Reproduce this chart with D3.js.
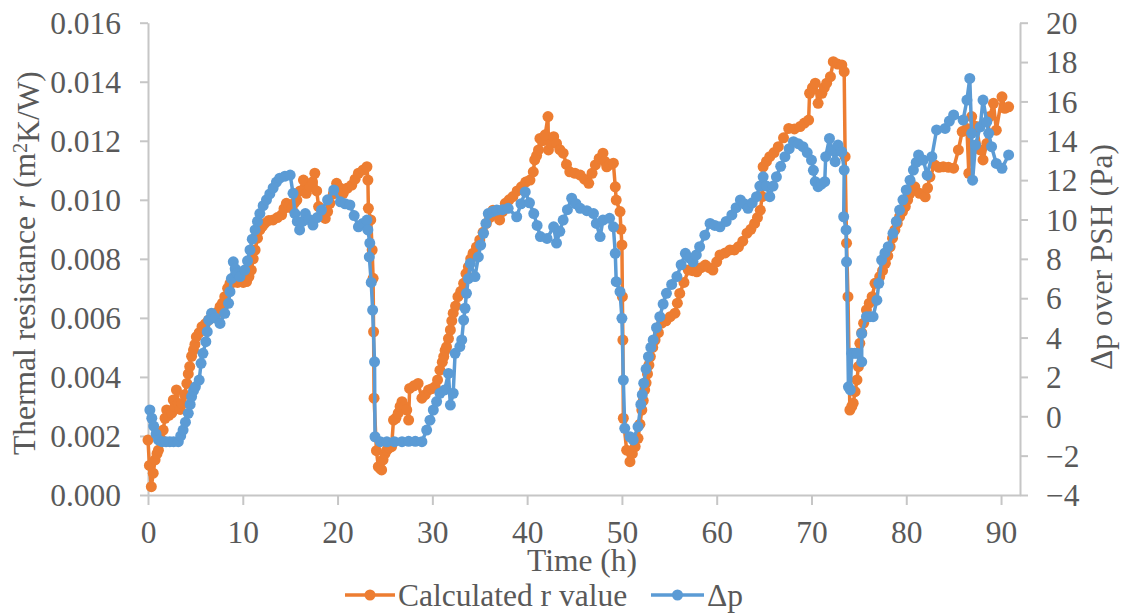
<!DOCTYPE html>
<html><head><meta charset="utf-8">
<script src="https://cdn.jsdelivr.net/npm/d3@7"></script>
<style>body{margin:0;background:#fff} svg{display:block}</style>
</head><body>
<svg id="c" width="1127" height="614"></svg>
<script>
const xTicks=[0,10,20,30,40,50,60,70,80,90];
const rTicks=[0,0.002,0.004,0.006,0.008,0.010,0.012,0.014,0.016];
const dpTicks=[-4,-2,0,2,4,6,8,10,12,14,16,18,20];
const seriesNames=["Calculated r value","\u0394p"];
const seriesColors=["#ED7D31","#5B9BD5"];

// [time (h), r (m2K/W)]
const rPoints=[[0.0,0.00186],[0.15,0.0010],[0.35,0.00028],[0.55,0.00074],[0.75,0.00119],[0.95,0.0014],[1.1,0.00152],[1.35,0.0019],[1.6,0.0022],[1.8,0.0026],[1.97,0.00288],[2.2,0.0027],[2.5,0.00277],[2.67,0.00322],[2.85,0.0030],[3.0,0.00356],[3.2,0.0031],[3.4,0.0029],[3.6,0.0031],[3.85,0.0034],[4.1,0.00378],[4.25,0.0041],[4.4,0.00435],[4.6,0.0047],[4.8,0.00491],[4.95,0.0051],[5.1,0.00536],[5.4,0.0055],[5.7,0.0057],[6.05,0.0058],[6.4,0.00593],[6.75,0.0060],[7.1,0.00604],[7.35,0.0062],[7.6,0.00638],[7.85,0.0065],[8.1,0.00672],[8.4,0.0070],[8.65,0.00717],[8.95,0.0072],[9.2,0.00728],[9.45,0.0072],[9.7,0.00723],[10.05,0.0072],[10.4,0.00723],[10.65,0.0074],[10.9,0.00762],[11.1,0.0080],[11.3,0.0083],[11.55,0.0087],[11.8,0.00898],[12.05,0.0091],[12.3,0.0092],[12.75,0.0093],[13.2,0.00932],[13.65,0.0094],[14.1,0.00949],[14.35,0.0097],[14.6,0.00988],[14.9,0.0098],[15.2,0.00971],[15.45,0.0099],[15.7,0.00999],[16.05,0.0103],[16.4,0.01067],[16.7,0.01022],[17.1,0.01044],[17.35,0.0106],[17.6,0.0109],[17.8,0.0103],[18.0,0.00977],[18.35,0.0095],[18.7,0.00937],[18.95,0.0096],[19.2,0.00988],[19.55,0.0102],[19.9,0.01056],[20.25,0.0104],[20.6,0.01022],[21.05,0.0104],[21.5,0.0105],[21.85,0.0107],[22.2,0.0109],[22.7,0.01101],[23.1,0.01112],[23.2,0.01067],[23.25,0.00971],[23.5,0.00932],[23.65,0.0083],[23.75,0.00734],[23.8,0.00553],[23.85,0.00328],[24.1,0.0015],[24.3,0.00096],[24.5,0.0009],[24.65,0.00085],[24.8,0.00119],[25.0,0.0014],[25.2,0.00152],[25.45,0.0016],[25.7,0.00164],[25.9,0.00254],[26.15,0.0026],[26.4,0.00277],[26.6,0.0030],[26.8,0.00316],[27.05,0.0030],[27.3,0.00288],[27.5,0.00254],[27.6,0.00361],[28.05,0.0037],[28.5,0.00378],[28.9,0.00328],[29.25,0.0034],[29.6,0.00356],[29.95,0.0036],[30.3,0.00367],[30.55,0.0039],[30.8,0.00423],[31.05,0.0045],[31.2,0.00469],[31.35,0.0049],[31.5,0.00502],[31.7,0.0053],[31.9,0.00559],[32.05,0.0059],[32.2,0.00616],[32.45,0.0064],[32.7,0.00672],[33.0,0.0069],[33.3,0.00717],[33.55,0.0075],[33.8,0.00773],[34.05,0.0080],[34.3,0.00819],[34.65,0.0084],[35.0,0.00864],[35.35,0.0089],[35.7,0.0092],[36.05,0.0094],[36.4,0.00965],[36.75,0.0095],[37.1,0.00932],[37.4,0.0096],[37.7,0.00988],[38.1,0.0100],[38.5,0.01011],[38.95,0.0103],[39.4,0.01044],[39.85,0.0106],[40.3,0.01067],[40.65,0.01095],[40.8,0.01135],[41.0,0.0115],[41.2,0.01169],[41.35,0.01208],[41.6,0.0120],[41.9,0.0122],[42.2,0.01282],[42.25,0.01169],[42.5,0.0119],[42.8,0.01214],[43.1,0.01191],[43.45,0.0117],[43.8,0.01158],[44.15,0.0112],[44.5,0.01095],[45.05,0.0109],[45.6,0.01084],[46.05,0.0107],[46.5,0.01056],[46.85,0.0109],[47.2,0.01118],[47.6,0.0114],[48.0,0.01158],[48.2,0.0113],[48.4,0.01112],[48.75,0.0112],[49.1,0.01124],[49.3,0.01044],[49.4,0.00999],[49.8,0.0096],[49.9,0.0090],[50.0,0.00847],[50.05,0.00672],[50.1,0.00525],[50.15,0.0026],[50.5,0.00152],[50.85,0.00113],[51.1,0.0014],[51.4,0.00164],[51.7,0.00192],[51.9,0.0024],[52.1,0.00288],[52.25,0.0032],[52.4,0.00356],[52.55,0.0038],[52.7,0.0041],[52.85,0.0044],[53.0,0.00469],[53.25,0.0050],[53.5,0.00525],[53.85,0.0055],[54.2,0.00582],[54.65,0.0059],[55.1,0.00604],[55.6,0.00616],[55.85,0.0065],[56.1,0.00683],[56.55,0.0072],[57.0,0.00762],[57.45,0.0076],[57.9,0.00756],[58.35,0.0077],[58.8,0.00779],[59.2,0.0077],[59.6,0.00762],[60.0,0.0079],[60.35,0.00813],[60.9,0.0082],[61.4,0.0083],[61.85,0.0083],[62.3,0.00841],[62.75,0.0086],[63.2,0.00887],[63.6,0.0090],[64.0,0.0092],[64.3,0.0094],[64.6,0.00965],[64.8,0.01011],[64.9,0.01112],[65.25,0.0113],[65.6,0.01146],[66.05,0.0116],[66.5,0.0118],[67.05,0.0121],[67.6,0.01242],[68.2,0.0124],[68.8,0.01248],[69.25,0.0126],[69.7,0.0127],[69.8,0.01361],[70.1,0.0138],[70.4,0.01395],[70.7,0.01327],[71.1,0.01361],[71.35,0.0138],[71.6,0.01395],[72.0,0.01417],[72.3,0.01468],[72.75,0.0146],[73.2,0.01457],[73.45,0.01434],[73.55,0.01146],[73.7,0.00853],[73.85,0.00672],[74.05,0.00288],[74.25,0.0030],[74.4,0.00311],[74.6,0.0035],[74.8,0.0039],[74.95,0.00435],[75.1,0.00514],[75.3,0.0055],[75.5,0.00582],[75.8,0.00627],[76.1,0.0065],[76.4,0.00672],[76.7,0.00717],[77.2,0.0074],[77.5,0.0076],[77.8,0.00785],[78.05,0.0081],[78.3,0.00841],[78.55,0.0087],[78.8,0.00898],[79.05,0.0092],[79.3,0.00943],[79.6,0.0096],[79.9,0.00977],[80.15,0.0100],[80.4,0.01022],[80.9,0.01044],[81.4,0.01022],[82.0,0.0101],[82.25,0.0104],[82.5,0.01078],[83.0,0.01118],[83.45,0.0111],[83.9,0.01112],[84.45,0.0111],[85.0,0.01107],[85.5,0.01169],[85.9,0.01231],[86.4,0.01242],[86.6,0.0109],[86.9,0.01282],[87.4,0.01248],[87.8,0.01169],[88.1,0.01135],[88.5,0.01191],[88.8,0.01282],[89.2,0.01327],[89.5,0.01236],[90.1,0.01349],[90.4,0.0131],[90.8,0.01315]];

// [time (h), delta p over PSH (Pa)]
const dpPoints=[[0.2,0.32],[0.4,-0.1],[0.6,-0.5],[0.85,-0.9],[1.1,-1.2],[1.5,-1.29],[1.9,-1.29],[2.3,-1.29],[2.7,-1.29],[3.2,-1.29],[3.45,-1.0],[3.7,-0.7],[3.95,-0.3],[4.25,0.15],[4.45,0.6],[4.6,1.0],[4.8,1.3],[5.0,1.5],[5.4,1.84],[5.6,2.69],[5.8,3.2],[6.1,3.79],[6.25,4.3],[6.4,4.89],[6.7,5.23],[7.1,5.0],[7.6,4.72],[8.1,5.23],[8.5,5.74],[8.65,6.33],[8.8,7.0],[9.0,7.85],[9.2,7.5],[9.36,7.27],[9.7,7.1],[10.2,7.43],[10.5,7.9],[10.76,8.45],[11.0,9.0],[11.3,9.47],[11.55,9.9],[11.8,10.3],[12.15,10.7],[12.5,11.0],[12.85,11.3],[13.2,11.6],[13.55,11.9],[13.9,12.1],[14.45,12.2],[15.0,12.26],[15.3,11.33],[15.5,10.3],[15.75,9.9],[16.0,9.47],[16.3,9.9],[16.6,10.3],[17.0,10.0],[17.4,9.72],[17.85,10.1],[18.3,10.48],[18.95,11.0],[19.6,11.5],[20.3,10.9],[20.8,10.8],[21.3,10.74],[21.75,10.2],[22.2,9.63],[22.65,9.8],[23.1,9.97],[23.2,9.47],[23.4,8.8],[23.35,8.1],[23.55,6.8],[23.7,5.4],[23.9,2.77],[23.95,-1.04],[24.5,-1.29],[25.2,-1.3],[26.0,-1.29],[26.8,-1.29],[27.5,-1.27],[28.2,-1.27],[28.9,-1.29],[29.4,-0.7],[29.75,-0.2],[30.1,0.32],[30.45,0.75],[30.8,1.17],[31.3,1.34],[31.7,2.18],[31.9,0.57],[32.2,1.17],[32.4,3.2],[32.9,3.54],[33.1,3.88],[33.3,4.89],[33.45,5.49],[33.6,6.25],[33.8,7.0],[34.0,7.77],[34.5,7.1],[34.85,8.1],[35.1,8.7],[35.4,9.3],[35.65,9.8],[35.9,10.3],[36.35,10.4],[36.8,10.48],[37.4,10.5],[38.0,10.57],[38.9,10.14],[39.35,10.8],[39.8,11.4],[40.25,10.85],[40.7,10.3],[41.05,9.7],[41.4,9.13],[42.1,9.04],[42.8,9.63],[43.1,8.8],[43.45,9.4],[43.8,9.97],[44.25,10.5],[44.7,11.08],[45.15,10.8],[45.6,10.57],[46.3,10.45],[47.0,10.3],[47.3,9.8],[47.7,9.13],[48.0,9.97],[48.7,10.06],[49.1,9.63],[49.3,8.28],[49.4,6.84],[49.8,6.33],[50.0,4.98],[50.15,1.84],[50.3,-0.61],[50.85,-1.04],[51.2,-1.2],[51.7,-0.53],[52.0,0.6],[52.15,1.1],[52.3,1.68],[52.55,2.4],[52.8,3.03],[53.05,3.5],[53.3,3.88],[53.65,4.5],[54.0,5.06],[54.35,5.7],[54.7,6.25],[55.25,6.7],[55.8,7.1],[56.25,7.7],[56.7,8.28],[57.1,8.05],[57.5,7.85],[57.85,8.2],[58.2,8.62],[58.75,9.2],[59.3,9.8],[59.8,9.7],[60.35,9.63],[61.0,9.9],[61.6,10.23],[62.05,10.6],[62.5,10.99],[62.9,10.8],[63.3,10.57],[63.75,10.85],[64.2,11.16],[64.55,11.7],[64.9,12.17],[65.25,11.7],[65.6,11.16],[65.95,11.7],[66.3,12.17],[66.75,12.7],[67.2,13.19],[67.65,13.6],[68.1,13.95],[68.6,13.85],[69.1,13.7],[69.55,13.4],[70.0,13.02],[70.2,12.5],[70.4,11.92],[70.7,11.67],[71.05,11.8],[71.4,11.92],[71.5,13.19],[71.9,14.12],[72.2,13.5],[72.5,12.94],[72.8,13.78],[73.2,13.44],[73.45,12.51],[73.4,10.14],[73.65,9.47],[73.7,7.85],[73.9,1.5],[74.1,1.34],[74.25,3.2],[74.55,3.2],[74.8,3.2],[75.3,2.77],[75.3,4.2],[75.8,5.06],[76.15,5.06],[76.5,5.06],[76.9,5.9],[77.1,6.76],[77.4,7.94],[77.75,8.3],[78.1,8.62],[78.6,9.3],[78.95,9.9],[79.3,10.48],[79.65,11.0],[80.0,11.5],[80.4,12.0],[80.75,12.51],[81.05,12.9],[81.3,13.28],[81.8,13.02],[82.2,12.26],[82.7,13.19],[83.2,14.55],[84.1,14.63],[84.55,15.0],[85.0,15.31],[86.0,15.05],[86.4,16.07],[86.7,17.17],[86.9,14.38],[87.0,12.0],[87.3,13.78],[87.8,14.71],[88.1,16.07],[88.5,14.97],[88.7,14.38],[89.0,13.7],[89.5,12.85],[90.1,12.6],[90.8,13.28]];

const svg=d3.select("#c");
const FONT="'Liberation Serif','Times New Roman',serif";
const FS=31.5;
const TXT="#595959";
const AX="#c6c6c6";
const L=148,R=1020,T=22.7,B=495;

const x=d3.scaleLinear().domain([0,92]).range([L,R]);
const yL=d3.scaleLinear().domain([0,0.016]).range([B,T]);
const yR=d3.scaleLinear().domain([-4,20]).range([B,T]);

function styleAxis(g){
  g.select(".domain").attr("stroke",AX).attr("stroke-width",2);
  g.selectAll(".tick line").attr("stroke",AX).attr("stroke-width",2);
  g.selectAll(".tick text").attr("fill",TXT).style("font-family",FONT).style("font-size",FS+"px");
}

const gx=svg.append("g").attr("transform",`translate(0,${B})`)
  .call(d3.axisBottom(x).tickValues(xTicks).tickFormat(d3.format("d")).tickSize(10).tickSizeOuter(0).tickPadding(16));
styleAxis(gx);

const gl=svg.append("g").attr("transform",`translate(${L},0)`)
  .call(d3.axisLeft(yL).tickValues(rTicks).tickFormat(d3.format(".3f")).tickSize(8).tickSizeOuter(0).tickPadding(19));
styleAxis(gl);
gl.selectAll(".tick text").attr("dy","0.34em");

const gr=svg.append("g").attr("transform",`translate(${R},0)`)
  .call(d3.axisRight(yR).tickValues(dpTicks).tickFormat(d3.format("d")).tickSize(8).tickSizeOuter(0).tickPadding(18));
styleAxis(gr);
gr.selectAll(".tick text").attr("dy","0.34em");

// series
function drawSeries(pts,ys,color){
  const line=d3.line().x(d=>x(d[0])).y(d=>ys(d[1]));
  const g=svg.append("g");
  g.append("path").datum(pts).attr("d",line).attr("fill","none").attr("stroke",color)
    .attr("stroke-width",3.5).attr("stroke-linejoin","round");
  g.selectAll("circle").data(pts).enter().append("circle")
    .attr("cx",d=>x(d[0])).attr("cy",d=>ys(d[1])).attr("r",5.5).attr("fill",color);
}
drawSeries(rPoints,yL,seriesColors[0]);
drawSeries(dpPoints,yR,seriesColors[1]);

// axis titles
svg.append("text").attr("x",(L+R)/2-2).attr("y",571).attr("text-anchor","middle")
  .attr("fill",TXT).style("font-family",FONT).style("font-size",FS+"px").text("Time (h)");

const yt=svg.append("text").attr("transform","translate(35,263) rotate(-90)").attr("text-anchor","middle")
  .attr("fill",TXT).style("font-family",FONT).style("font-size",FS+"px");
yt.append("tspan").text("Thermal resistance ");
yt.append("tspan").style("font-style","italic").text("r");
yt.append("tspan").text(" (m");
yt.append("tspan").attr("dy","-0.4em").style("font-size",(FS*0.65)+"px").text("2");
yt.append("tspan").attr("dy","0.4em").text("K/W)");

svg.append("text").attr("transform","translate(1112,257) rotate(-90)").attr("text-anchor","middle")
  .attr("fill",TXT).style("font-family",FONT).style("font-size",FS+"px").text("\u0394p over PSH (Pa)");

// legend
const legY=595;
const legItems=[{x1:345,x2:395,tx:398},{x1:651,x2:704,tx:707}];
legItems.forEach((it,i)=>{
  svg.append("line").attr("x1",it.x1).attr("x2",it.x2).attr("y1",legY).attr("y2",legY)
    .attr("stroke",seriesColors[i]).attr("stroke-width",3.5);
  svg.append("circle").attr("cx",(it.x1+it.x2)/2).attr("cy",legY).attr("r",5.5).attr("fill",seriesColors[i]);
  svg.append("text").attr("x",it.tx).attr("y",legY+10.5).attr("fill",TXT)
    .style("font-family",FONT).style("font-size",FS+"px").text(seriesNames[i]);
});
</script>
</body></html>
